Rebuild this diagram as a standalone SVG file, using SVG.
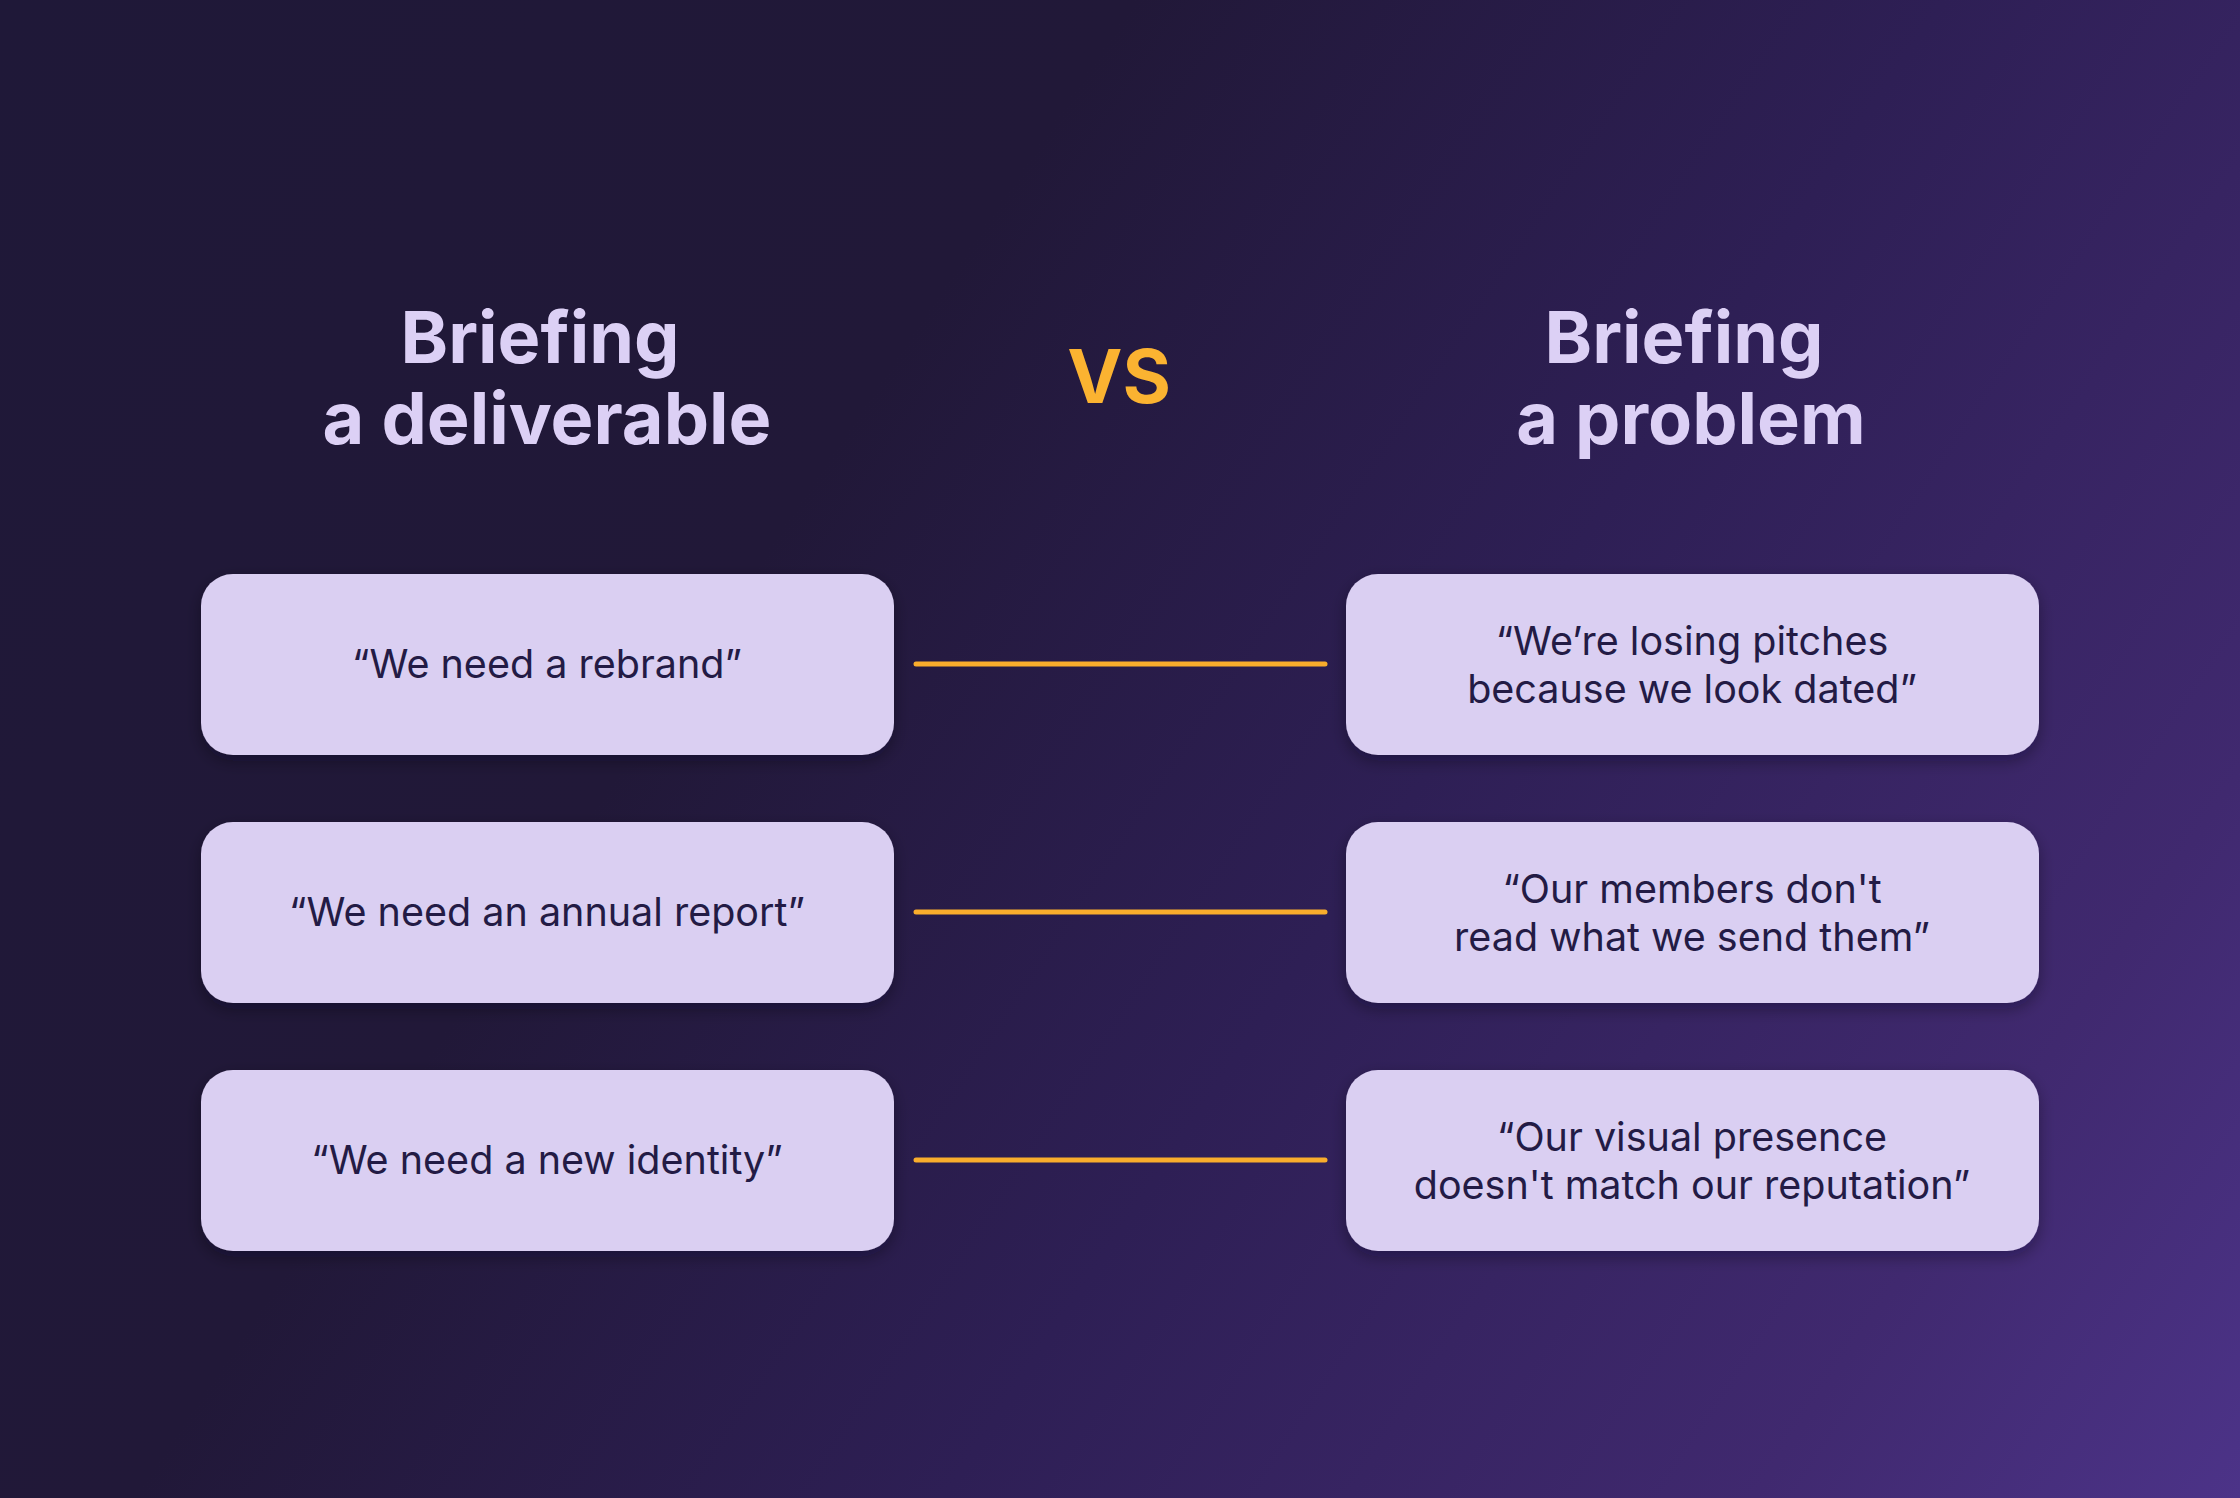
<svg xmlns="http://www.w3.org/2000/svg" width="2240" height="1498" viewBox="0 0 2240 1498">
<defs>
<linearGradient id="bg" x1="0" y1="0" x2="2240" y2="1498" gradientUnits="userSpaceOnUse">
<stop offset="0" stop-color="#1f1838"/>
<stop offset="0.35" stop-color="#211838"/>
<stop offset="0.6" stop-color="#2e1f55"/>
<stop offset="0.85" stop-color="#40296f"/>
<stop offset="1" stop-color="#4c3388"/>
</linearGradient>
<filter id="sh" x="-10%" y="-20%" width="120%" height="150%">
<feDropShadow dx="0" dy="6" stdDeviation="8" flood-color="#0e0820" flood-opacity="0.35"/>
</filter>
<style>
.title{font-family:Inter,"Noto Sans",sans-serif;font-weight:700;font-size:72px;fill:#dcd0f5;text-anchor:middle}
.vs{font-family:Inter,"Noto Sans",sans-serif;font-weight:700;font-size:74px;fill:#fbb331;text-anchor:middle}
.box{fill:#dacff2;filter:url(#sh)}
.txt{font-family:Inter,"Noto Sans",sans-serif;font-weight:400;font-size:39.5px;fill:#231b45;text-anchor:middle}
.conn{stroke:#f9ad2c;stroke-width:5;stroke-linecap:round;fill:none}
</style>
</defs>
<rect x="0" y="0" width="2240" height="1498" fill="url(#bg)"/>
<g id="title-left">
<text class="title" x="540" y="363">Briefing</text>
<text class="title" x="547" y="444">a deliverable</text>
</g>
<g id="vs">
<text class="vs" x="1119" y="403">VS</text>
</g>
<g id="title-right">
<text class="title" x="1684" y="363">Briefing</text>
<text class="title" x="1691" y="444">a problem</text>
</g>
<g id="connectors">
<line class="conn" x1="916" y1="664" x2="1325" y2="664"/>
<line class="conn" x1="916" y1="912" x2="1325" y2="912"/>
<line class="conn" x1="916" y1="1160" x2="1325" y2="1160"/>
</g>
<g id="left-1">
<rect class="box" x="201" y="574" width="693" height="181" rx="32"/>
<text class="txt" x="547" y="678">“We need a rebrand”</text>
</g>
<g id="left-2">
<rect class="box" x="201" y="822" width="693" height="181" rx="32"/>
<text class="txt" x="547" y="926">“We need an annual report”</text>
</g>
<g id="left-3">
<rect class="box" x="201" y="1070" width="693" height="181" rx="32"/>
<text class="txt" x="547" y="1174">“We need a new identity”</text>
</g>
<g id="right-1">
<rect class="box" x="1346" y="574" width="693" height="181" rx="32"/>
<text class="txt" x="1692" y="655">“We’re losing pitches</text>
<text class="txt" x="1692" y="703">because we look dated”</text>
</g>
<g id="right-2">
<rect class="box" x="1346" y="822" width="693" height="181" rx="32"/>
<text class="txt" x="1692" y="903">“Our members don't</text>
<text class="txt" x="1692" y="951">read what we send them”</text>
</g>
<g id="right-3">
<rect class="box" x="1346" y="1070" width="693" height="181" rx="32"/>
<text class="txt" x="1692" y="1151">“Our visual presence</text>
<text class="txt" x="1692" y="1199">doesn't match our reputation”</text>
</g>
</svg>
